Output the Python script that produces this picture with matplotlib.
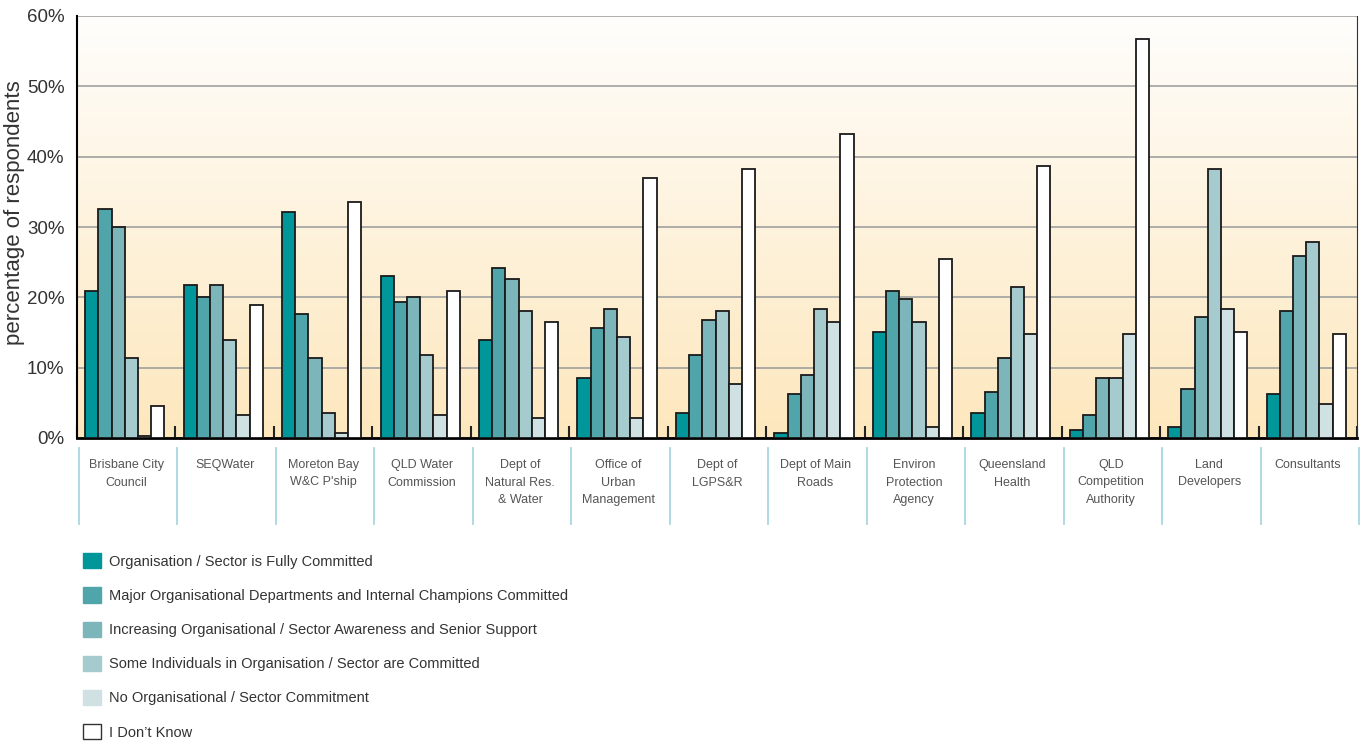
import numpy as np
import matplotlib
matplotlib.use('Agg')
import matplotlib.pyplot as plt
from matplotlib.patches import Patch
from matplotlib.colors import LinearSegmentedColormap

plt.rcParams['font.family'] = ['Liberation Sans Narrow', 'Liberation Sans', 'DejaVu Sans']

# survey data (percent of respondents)
categories = ['Brisbane City\nCouncil', 'SEQWater', 'Moreton Bay\nW&C P\'ship',
              'QLD Water\nCommission', 'Dept of\nNatural Res.\n& Water',
              'Office of\nUrban\nManagement', 'Dept of\nLGPS&R', 'Dept of Main\nRoads',
              'Environ\nProtection\nAgency', 'Queensland\nHealth', 'QLD\nCompetition\nAuthority',
              'Land\nDevelopers', 'Consultants']

series_names = ['Organisation / Sector is Fully Committed',
                'Major Organisational Departments and Internal Champions Committed',
                'Increasing Organisational / Sector Awareness and Senior Support',
                'Some Individuals in Organisation / Sector are Committed',
                'No Organisational / Sector Commitment',
                'I Don\u2019t Know']

fully_committed = [20.9, 21.7, 32.1, 23.0, 13.9, 8.5, 3.6, 0.7, 15.1, 3.6, 1.1, 1.5, 6.2]
major_depts = [32.5, 20.1, 17.6, 19.3, 24.2, 15.6, 11.8, 6.2, 20.9, 6.6, 3.2, 6.9, 18.0]
increasing_awareness = [30.0, 21.7, 11.4, 20.1, 22.6, 18.4, 16.8, 9.0, 19.7, 11.4, 8.5, 17.2, 25.9]
some_individuals = [11.4, 13.9, 3.6, 11.8, 18.0, 14.3, 18.0, 18.4, 16.5, 21.4, 8.5, 38.2, 27.9]
no_commitment = [0.3, 3.2, 0.7, 3.2, 2.9, 2.9, 7.7, 16.5, 1.5, 14.8, 14.8, 18.4, 4.8]
dont_know = [4.5, 18.9, 33.6, 20.9, 16.5, 36.9, 38.2, 43.2, 25.5, 38.7, 56.8, 15.1, 14.8]

all_series = [fully_committed, major_depts, increasing_awareness,
              some_individuals, no_commitment, dont_know]
colors = ['#00969a', '#50a5aa', '#7cb6bb', '#a6cbcf', '#cfe1e3', '#ffffff']

fig = plt.figure(figsize=(13.66, 7.44), dpi=100)
ax = fig.add_axes([77 / 1366, 1 - 438 / 744, 1280 / 1366, 422 / 744])

# background gradient
grad = LinearSegmentedColormap.from_list('bg', ['#fde7bd', '#fffefc'])
ax.imshow(np.linspace(0, 1, 256).reshape(-1, 1), cmap=grad, aspect='auto',
          extent=[0, 1, 0, 1], transform=ax.transAxes, origin='lower', zorder=0)

x = np.arange(len(categories))
width = 0.134
for i, vals in enumerate(all_series):
    ax.bar(x + (i - 2.5) * width - 0.015, vals, width, color=colors[i],
           edgecolor='#1a1a1a', linewidth=1.3, zorder=3, label=series_names[i])

ax.set_xlim(-0.5, len(categories) - 0.5)
ax.set_ylim(0, 60)
ax.set_yticks(range(0, 61, 10))
ax.set_yticklabels([f'{v}%' for v in range(0, 61, 10)], fontsize=13.5, color='#333333')
ax.yaxis.grid(True, color='#a0a0a0', linewidth=1.2, zorder=1)
ax.set_axisbelow(True)
ax.tick_params(axis='y', length=0, pad=9)

ax.set_xticks(np.arange(-0.5, len(categories), 1))
ax.set_xticklabels([])
ax.tick_params(axis='x', direction='in', length=9, width=1.5, color='#222222')

ax.spines['top'].set_visible(False)
ax.spines['left'].set_linewidth(1.5)
ax.spines['bottom'].set_linewidth(2)
ax.spines['right'].set_color('#333333')

ax.set_ylabel('percentage of respondents', fontsize=16, color='#333333')
ax.yaxis.set_label_coords(-0.041, 0.533)

# category labels and separators under the axis
trans = ax.get_xaxis_transform()
for i, name in enumerate(categories):
    ax.text(i, -0.05, name, transform=trans, ha='center', va='top',
            fontsize=9, color='#555555', linespacing=1.6)
for b in np.arange(-0.5, len(categories), 1):
    ax.plot([b + 0.02, b + 0.02], [-0.024, -0.204], transform=trans, color='#a9d8df',
            linewidth=1.3, clip_on=False)

handles = [Patch(facecolor=c, edgecolor='#333333' if c == '#ffffff' else c, linewidth=1)
           for c in colors]
fig.legend(handles, series_names, loc='upper left', bbox_to_anchor=(70 / 1366, 1 - 540 / 744),
           frameon=False, fontsize=10.5, handlelength=1.23, handleheight=1.23,
           handletextpad=0.55, labelspacing=1.28, labelcolor='#333333')

plt.savefig('out.png', dpi=100)
